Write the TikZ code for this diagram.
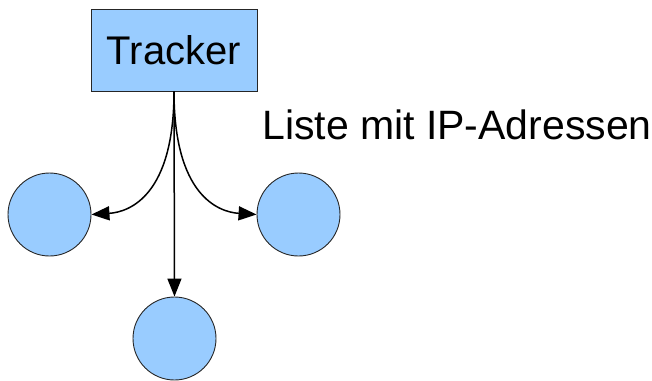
\documentclass[tikz,border=0pt]{standalone}
\usepackage{fontspec}
\setmainfont{Liberation Sans}
\usetikzlibrary{arrows.meta}
\definecolor{nodeblue}{HTML}{99CCFF}
\begin{document}
\begin{tikzpicture}[x=1pt,y=-1pt,
  peer/.style={circle,draw=black!85,line width=0.9pt,fill=nodeblue,minimum size=83pt,inner sep=0pt},
  trackerbox/.style={rectangle,draw=black!85,line width=0.9pt,fill=nodeblue,minimum width=166pt,minimum height=82pt,inner sep=0pt,font=\fontsize{40}{48}\selectfont},
  conn/.style={line width=1.5pt,-{Triangle[length=18pt,width=14pt]}}]
\useasboundingbox (0,0) rectangle (652,380);
\node[trackerbox] (tracker) at (174,50) {Tracker};
\node[peer] (left) at (49.5,214.5) {};
\node[peer] (right) at (298.5,214.5) {};
\node[peer] (bottom) at (174.5,338.5) {};
\node[anchor=base west,font=\fontsize{41}{49}\selectfont,inner sep=0pt] (label) at (262,139) {Liste mit IP-Adressen};
\draw[conn] (tracker.south) .. controls (174,195) and (130,212) .. (left.east);
\draw[conn] (tracker.south) .. controls (174,195) and (218,212) .. (right.west);
\draw[conn] (tracker.south) -- (bottom.north);
\end{tikzpicture}
\end{document}
